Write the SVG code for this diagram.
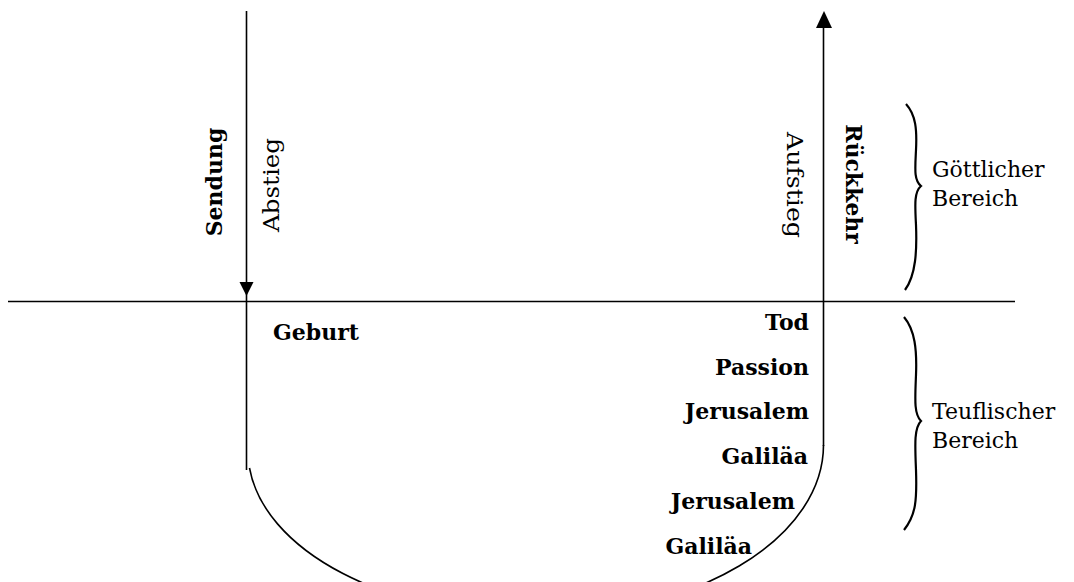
<svg xmlns="http://www.w3.org/2000/svg" width="1074" height="582" viewBox="0 0 1074 582">
<style>
.ln{stroke:#000;stroke-width:1.6;fill:none}
.b{font-family:"DejaVu Serif","Liberation Serif",serif;font-weight:bold;font-size:22px;fill:#000}
.r{font-family:"DejaVu Serif","Liberation Serif",serif;font-size:22px;fill:#000}
.br{stroke:#000;stroke-width:2.2;fill:none}
</style>
<rect width="1074" height="582" fill="#fff"/>
<g id="connectors">
<line class="ln" x1="8" y1="301.5" x2="1015" y2="301.5"/>
<line class="ln" x1="246.5" y1="11" x2="246.5" y2="470"/>
<polygon points="239.5,282 253.5,282 246.5,296" fill="#000"/>
<line class="ln" x1="823.5" y1="26" x2="823.5" y2="446"/>
<polygon points="816,28 832,28 824,11" fill="#000"/>
<path class="ln" d="M249.5,468 A287.5,165 0 0 0 535.5,616 A287.5,171 0 0 0 823.5,445"/>
</g>
<g id="sendung"><text class="b" text-anchor="middle" transform="translate(222,182) rotate(-90)">Sendung</text></g>
<g id="abstieg"><text class="r" text-anchor="middle" transform="translate(279,185) rotate(-90)" textLength="94" lengthAdjust="spacingAndGlyphs">Abstieg</text></g>
<g id="aufstieg"><text class="r" text-anchor="middle" transform="translate(787,185) rotate(90)" textLength="106" lengthAdjust="spacingAndGlyphs">Aufstieg</text></g>
<g id="rueckkehr"><text class="b" text-anchor="middle" transform="translate(846,184) rotate(90)">Rückkehr</text></g>
<g id="geburt"><text class="b" x="273" y="340">Geburt</text></g>
<g id="stations">
<text class="b" x="809" y="330" text-anchor="end">Tod</text>
<text class="b" x="809" y="375" text-anchor="end">Passion</text>
<text class="b" x="809" y="419" text-anchor="end">Jerusalem</text>
<text class="b" x="808" y="464" text-anchor="end">Galiläa</text>
<text class="b" x="795" y="509" text-anchor="end">Jerusalem</text>
<text class="b" x="752" y="554" text-anchor="end">Galiläa</text>
</g>
<g id="goettlich">
<path class="br" d="M906,104 C916,115 917,130 916,150 C915,170 914,180 921,186 C914,192 915,205 916,225 C917,250 916,275 905,290"/>
<text class="r" x="932" y="177">Göttlicher</text>
<text class="r" x="932" y="206">Bereich</text>
</g>
<g id="teuflisch">
<path class="br" d="M904,317 C915,330 917,350 916,375 C915,400 914,414 921,421 C914,428 915,445 916,470 C917,500 916,515 904,530"/>
<text class="r" x="932" y="419">Teuflischer</text>
<text class="r" x="932" y="448">Bereich</text>
</g>
</svg>
